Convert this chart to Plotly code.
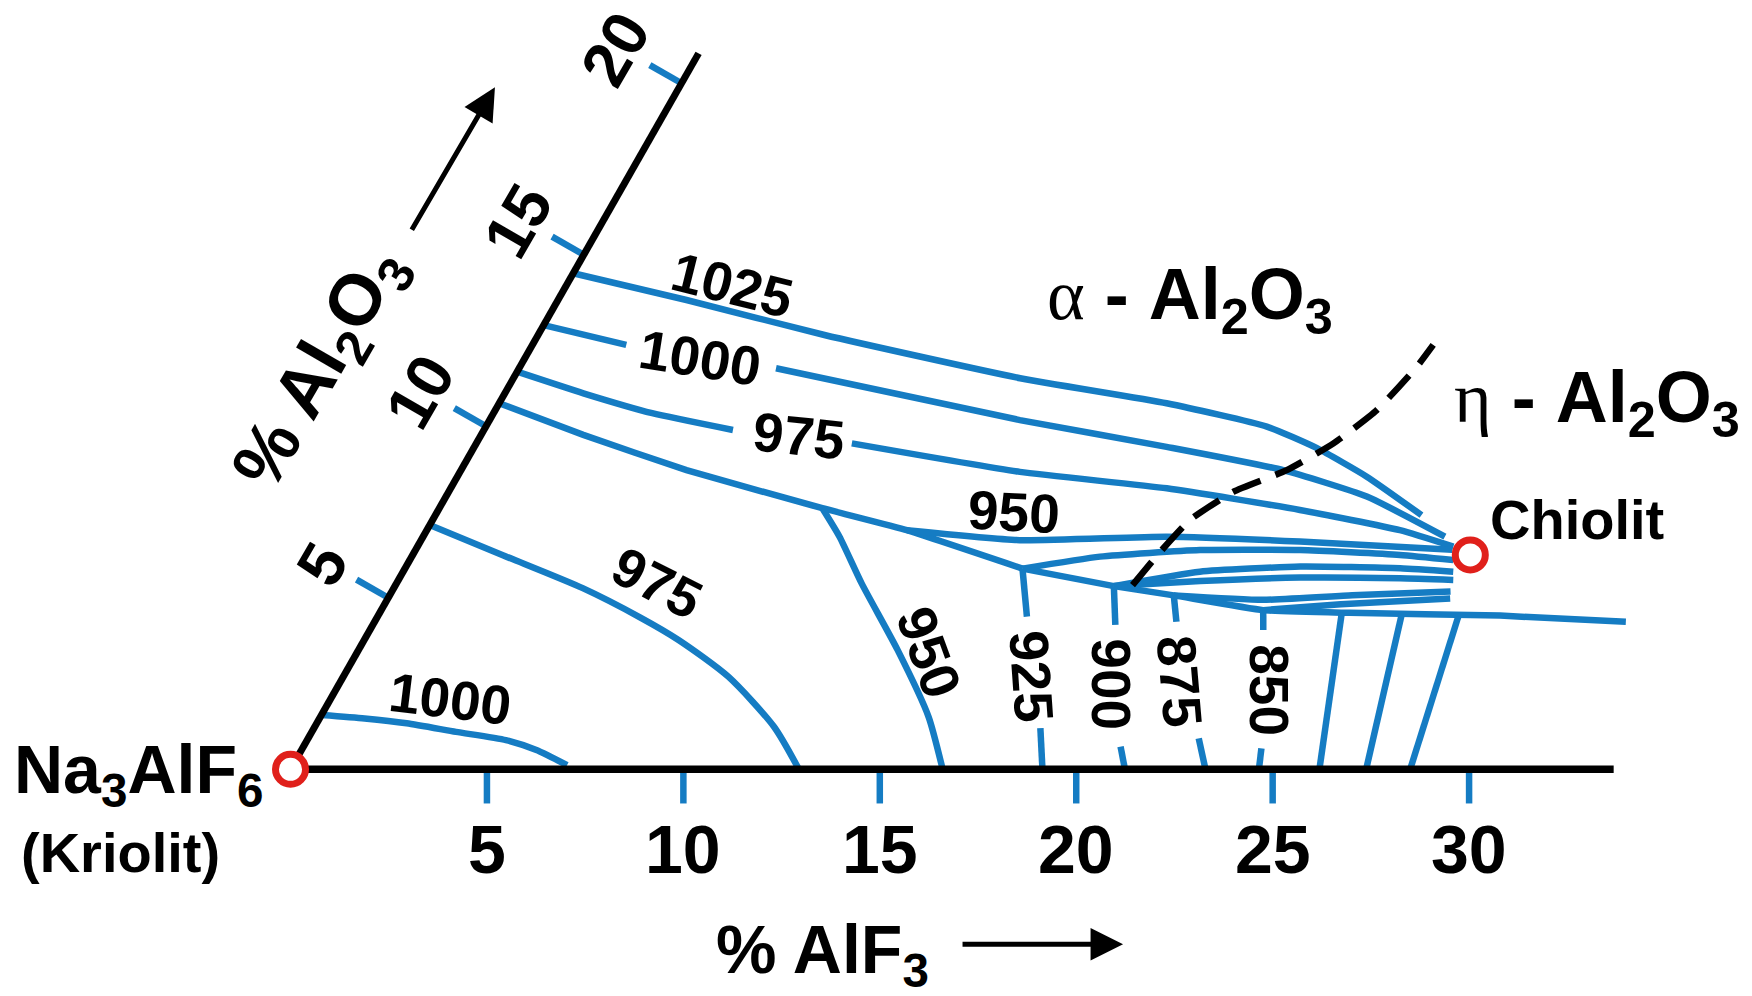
import plotly.graph_objects as go

# ---------------- data (AlF3 %, Al2O3 %) ----------------
ISO1025_ALF3 = [0.00, 3.27, 7.29, 12.90, 16.99, 19.88, 21.47, 23.15, 25.10]
ISO1025_AL2O3 = [14.46, 13.68, 12.66, 11.40, 10.67, 9.99, 9.36, 8.53, 7.41]

ISO1000_UP_ALF3 = [0.00, 2.39, None, 6.54, 13.50, 17.62, 20.93, 23.44, 26.01]
ISO1000_UP_AL2O3 = [12.95, 12.37, None, 11.69, 10.18, 9.40, 8.72, 7.95, 6.78]

ISO975_UP_ALF3 = [0.00, 2.00, 4.04, 6.34, None, 9.56, 14.25, 18.23, 21.93, 24.77, 26.37]
ISO975_UP_AL2O3 = [11.59, 10.96, 10.38, 9.89, None, 9.50, 8.67, 8.19, 7.56, 6.97, 6.49]

BOUNDARY_ALF3 = [0.00, 2.60, 5.74, 9.75, 12.22, 15.72]
BOUNDARY_AL2O3 = [10.67, 9.75, 8.72, 7.61, 6.97, 5.85]

ISO950_UP_ALF3 = [12.22, 15.24, 18.93, 22.39, 26.39]
ISO950_UP_AL2O3 = [6.97, 6.68, 6.78, 6.64, 6.40]

FAN_J2_ALF3 = [15.72, 17.52, 19.97, 22.52, 25.13, 26.56]
FAN_J2_AL2O3 = [5.85, 6.20, 6.39, 6.39, 6.25, 6.10]

J2_J3_ALF3 = [15.72, 18.30]
J2_J3_AL2O3 = [5.85, 5.34]

FAN_J3A_ALF3 = [18.30, 20.28, 22.76, 25.33, 26.73]
FAN_J3A_AL2O3 = [5.34, 5.76, 5.91, 5.86, 5.76]

FAN_J3B_ALF3 = [18.30, 20.42, 22.92, 25.47, 26.85]
FAN_J3B_AL2O3 = [5.34, 5.49, 5.59, 5.57, 5.52]

FAN_C_ALF3 = [19.96, 22.29, 24.50, 26.95]
FAN_C_AL2O3 = [5.07, 4.94, 5.07, 5.18]

FAN_D_ALF3 = [22.45, 24.34, 27.04]
FAN_D_AL2O3 = [4.64, 4.81, 4.98]

LOWER_ALF3 = [18.30, 19.96, 22.45, 24.69, 28.56, 31.85]
LOWER_AL2O3 = [5.34, 5.07, 4.64, 4.56, 4.48, 4.30]

ISO950_V_ALF3 = [9.75, 10.60, 11.84, 13.72, 15.48, 16.60]
ISO950_V_AL2O3 = [7.61, 6.78, 5.42, 3.48, 1.53, 0.00]

ISO925_ALF3 = [15.72, 16.53, None, 18.49, 19.14]
ISO925_AL2O3 = [5.85, 4.45, None, 1.20, 0.00]

ISO900_ALF3 = [18.30, 18.90, None, 20.80, 21.24]
ISO900_AL2O3 = [5.34, 4.21, None, 0.66, 0.00]

ISO875_ALF3 = [19.96, 20.41, None, 22.67, 23.29]
ISO875_AL2O3 = [5.07, 4.30, None, 0.90, 0.00]

ISO850_ALF3 = [22.45, 22.74, None, 24.41, 24.65]
ISO850_AL2O3 = [4.64, 4.06, None, 0.61, 0.00]

VERT1_ALF3 = [24.49, 26.19]
VERT1_AL2O3 = [4.56, 0.00]
VERT2_ALF3 = [26.04, 27.38]
VERT2_AL2O3 = [4.51, 0.00]
VERT3_ALF3 = [27.51, 28.50]
VERT3_AL2O3 = [4.45, 0.00]

ISO975_LOW_ALF3 = [0.00, 2.30, 4.81, 6.69, 8.00, 9.80, 11.69, 12.94]
ISO975_LOW_AL2O3 = [7.12, 6.24, 5.28, 4.43, 3.77, 2.70, 1.24, 0.00]

ISO1000_LOW_ALF3 = [0.00, 1.15, 2.29, 3.67, 5.06, 5.98, 6.98]
ISO1000_LOW_AL2O3 = [1.58, 1.48, 1.34, 1.09, 0.85, 0.56, 0.12]

ETA_ALPHA_ALF3 = [18.76, 19.00, 19.28, 19.97, 21.02, 21.82, 22.44, 22.83, 22.93]
ETA_ALPHA_AL2O3 = [5.37, 6.40, 7.27, 8.09, 8.72, 9.50, 10.47, 11.74, 12.37]

AXIS_ALF3_MAX = 33.68
AXIS_AL2O3_MAX = 20.87
ALF3_TICKS = [5, 10, 15, 20, 25, 30]
AL2O3_TICKS = [5, 10, 15, 20]

POINT_NAMES = ["Na3AlF6", "Chiolit"]
POINT_ALF3 = [0.00, 26.92]
POINT_AL2O3 = [0.00, 6.25]

# isotherm labels: text, AlF3, Al2O3, angle
LABEL_TEXT = ["1025", "1000", "975", "950", "975", "1000", "950", "925", "900", "875", "850"]
LABEL_ALF3 = [4.21, 4.46, 8.10, 14.69, 6.63, 3.05, 14.57, 17.52, 19.66, 21.34, 23.74]
LABEL_AL2O3 = [14.12, 12.00, 9.72, 7.51, 5.42, 2.04, 3.40, 2.69, 2.49, 2.56, 2.30]
LABEL_ANGLE = [14, 9, 6, 3, 27, 7, 70, 86, 90, 85, 90]

# ---------------- styling / geometry ----------------
SX, SY = 0.4977, 0.8732  # skew of the Al2O3 axis (ternary, ~60 deg)
BLUE = "#157cc3"
RED = "#e0201b"
FONT = "Liberation Sans, Arial, sans-serif"
LW = 6.5


def to_xy(a_list, b_list):
    xs, ys = [], []
    for a, b in zip(a_list, b_list):
        if a is None or b is None:
            xs.append(None)
            ys.append(None)
        else:
            xs.append(a + SX * b)
            ys.append(SY * b)
    return xs, ys


fig = go.Figure()

blue_lines = [
    (ISO1025_ALF3, ISO1025_AL2O3, 0.5),
    (ISO1000_UP_ALF3, ISO1000_UP_AL2O3, 0.5),
    (ISO975_UP_ALF3, ISO975_UP_AL2O3, 0.5),
    (BOUNDARY_ALF3, BOUNDARY_AL2O3, 0.3),
    (ISO950_UP_ALF3, ISO950_UP_AL2O3, 0.5),
    (FAN_J2_ALF3, FAN_J2_AL2O3, 0.5),
    (J2_J3_ALF3, J2_J3_AL2O3, 0),
    (FAN_J3A_ALF3, FAN_J3A_AL2O3, 0.5),
    (FAN_J3B_ALF3, FAN_J3B_AL2O3, 0.5),
    (FAN_C_ALF3, FAN_C_AL2O3, 0.5),
    (FAN_D_ALF3, FAN_D_AL2O3, 0.5),
    (LOWER_ALF3, LOWER_AL2O3, 0.4),
    (ISO950_V_ALF3, ISO950_V_AL2O3, 0.6),
    (ISO925_ALF3, ISO925_AL2O3, 0),
    (ISO900_ALF3, ISO900_AL2O3, 0),
    (ISO875_ALF3, ISO875_AL2O3, 0),
    (ISO850_ALF3, ISO850_AL2O3, 0),
    (VERT1_ALF3, VERT1_AL2O3, 0),
    (VERT2_ALF3, VERT2_AL2O3, 0),
    (VERT3_ALF3, VERT3_AL2O3, 0),
    (ISO975_LOW_ALF3, ISO975_LOW_AL2O3, 0.7),
    (ISO1000_LOW_ALF3, ISO1000_LOW_AL2O3, 0.6),
]
for a, b, sm in blue_lines:
    x, y = to_xy(a, b)
    line = dict(color=BLUE, width=LW)
    if sm > 0:
        line.update(shape="spline", smoothing=sm)
    fig.add_trace(go.Scatter(x=x, y=y, mode="lines", line=line, hoverinfo="skip"))

# ticks (blue)
tick_len_bottom = 0.87
tx, ty = [], []
for v in ALF3_TICKS:
    tx += [v, v, None]
    ty += [0, -tick_len_bottom, None]
fig.add_trace(go.Scatter(x=tx, y=ty, mode="lines", line=dict(color=BLUE, width=6.5), hoverinfo="skip"))

norm = (SX ** 2 + SY ** 2) ** 0.5
nx, ny = -SY / norm, SX / norm
tick_len_left = 0.93
tx, ty = [], []
for v in AL2O3_TICKS:
    x0, y0 = to_xy([0], [v])
    tx += [x0[0], x0[0] + nx * tick_len_left, None]
    ty += [y0[0], y0[0] + ny * tick_len_left, None]
fig.add_trace(go.Scatter(x=tx, y=ty, mode="lines", line=dict(color=BLUE, width=6.5), hoverinfo="skip"))

# eta / alpha boundary (dashed)
x, y = to_xy(ETA_ALPHA_ALF3, ETA_ALPHA_AL2O3)
fig.add_trace(go.Scatter(x=x, y=y, mode="lines",
                         line=dict(color="black", width=6.5, dash="30px,16px", shape="spline", smoothing=0.5),
                         hoverinfo="skip"))

# axes (black)
x, y = to_xy([0, AXIS_ALF3_MAX], [0, 0])
fig.add_trace(go.Scatter(x=x, y=y, mode="lines", line=dict(color="black", width=7.5), hoverinfo="skip"))
x, y = to_xy([0, 0], [0, AXIS_AL2O3_MAX])
fig.add_trace(go.Scatter(x=x, y=y, mode="lines", line=dict(color="black", width=7), hoverinfo="skip"))

# compound points
x, y = to_xy(POINT_ALF3, POINT_AL2O3)
fig.add_trace(go.Scatter(x=x, y=y, mode="markers", text=POINT_NAMES,
                         marker=dict(symbol="circle", size=30, color="white",
                                     line=dict(color=RED, width=7)),
                         hoverinfo="text"))

ann = []
# isotherm labels
for t, a, b, ang in zip(LABEL_TEXT, LABEL_ALF3, LABEL_AL2O3, LABEL_ANGLE):
    x, y = to_xy([a], [b])
    ann.append(dict(x=x[0], y=y[0], text="<b>%s</b>" % t, showarrow=False, textangle=ang,
                    xanchor="center", yanchor="middle",
                    font=dict(family=FONT, size=55, color="black")))

# bottom tick labels
for v in ALF3_TICKS:
    ann.append(dict(x=v, y=0, text="<b>%d</b>" % v, showarrow=False, yshift=-80,
                    xanchor="center", yanchor="middle",
                    font=dict(family=FONT, size=68, color="black")))
# left tick labels
for v in AL2O3_TICKS:
    x, y = to_xy([0], [v])
    ann.append(dict(x=x[0], y=y[0], text="<b>%d</b>" % v, showarrow=False, xshift=-66, yshift=34,
                    textangle=-60, xanchor="center", yanchor="middle",
                    font=dict(family=FONT, size=64, color="black")))

paper_text = [
    ("<b>Na<sub>3</sub>AlF<sub>6</sub></b>", 0.0791, 0.2225, 0, 68),
    ("<b>(Kriolit)</b>", 0.0689, 0.1440, 0, 56),
    ("<b>% AlF<sub>3</sub></b>", 0.4695, 0.0420, 0, 68),
    ("<b>% Al<sub>2</sub>O<sub>3</sub></b>", 0.1837, 0.6298, -60, 72),
    ("<b>Chiolit</b>", 0.8999, 0.4783, 0, 56),
    ("<span style=\"font-family:'Liberation Serif'\">α</span><b> - Al<sub>2</sub>O<sub>3</sub></b>",
     0.6792, 0.6994, 0, 72),
    ("<span style=\"font-family:'Liberation Serif'\">η</span><b> - Al<sub>2</sub>O<sub>3</sub></b>",
     0.9114, 0.5962, 0, 72),
]
for t, px, py, ang, sz in paper_text:
    ann.append(dict(x=px, y=py, xref="paper", yref="paper", text=t, showarrow=False,
                    textangle=ang, xanchor="center", yanchor="middle",
                    font=dict(family=FONT, size=sz, color="black")))

# axis arrows
ann.append(dict(x=0.2825, y=0.9125, xref="paper", yref="paper", text="", showarrow=True,
                ax=-84, ay=144, arrowhead=2, arrowsize=1.3, arrowwidth=5, arrowcolor="black"))
ann.append(dict(x=0.6410, y=0.052, xref="paper", yref="paper", text="", showarrow=True,
                ax=-162, ay=0, arrowhead=2, arrowsize=1.3, arrowwidth=5, arrowcolor="black"))

fig.update_layout(
    width=1752, height=996, autosize=False,
    margin=dict(l=0, r=0, t=0, b=0, pad=0),
    paper_bgcolor="white", plot_bgcolor="white",
    showlegend=False,
    xaxis=dict(range=[-7.3947, 37.2012], visible=False, fixedrange=True),
    yaxis=dict(range=[-5.7707, 19.582], visible=False, fixedrange=True),
    annotations=ann,
)

fig.write_html("out.html", config={"displayModeBar": False},
               post_script="document.body.style.margin='0px';document.body.style.overflow='hidden';")
